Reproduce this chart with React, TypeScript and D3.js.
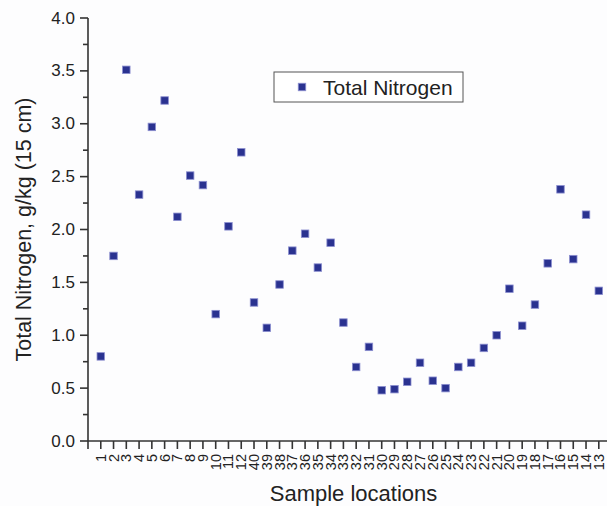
import React from "react";
import * as d3 from "d3";

const locations: string[] = [
  "1","2","3","4","5","6","7","8","9","10","11","12",
  "40","39","38","37","36","35","34","33","32","31","30","29","28","27","26",
  "25","24","23","22","21","20","19","18","17","16","15","14","13",
];
const totalNitrogen: number[] = [
  0.80, 1.75, 3.51, 2.33, 2.97, 3.22, 2.12, 2.51, 2.42, 1.20, 2.03, 2.73,
  1.31, 1.07, 1.48, 1.80, 1.96, 1.64, 1.875, 1.12, 0.70, 0.89, 0.48, 0.49,
  0.56, 0.74, 0.57, 0.50, 0.70, 0.74, 0.88, 1.00, 1.44, 1.09, 1.29, 1.68,
  2.38, 1.72, 2.14, 1.42,
];
const yMajorTicks: number[] = [0, 0.5, 1, 1.5, 2, 2.5, 3, 3.5, 4];
const yMinorTicks: number[] = [0.25, 0.75, 1.25, 1.75, 2.25, 2.75, 3.25, 3.75];
const seriesName = "Total Nitrogen";
const xTitle = "Sample locations";
const yTitle = "Total Nitrogen, g/kg (15 cm)";

const W = 607;
const H = 506;
const FONT = "Liberation Sans, Arial, Helvetica, sans-serif";
const TEXT = "#222";
const AXIS = "#333";
const FILL = "#2a3290";
const EDGE = "#8c8fd0";

export default function App() {
  const x0 = 88;
  const step = 12.77;
  const x = d3.scaleLinear().domain([0, 41]).range([x0, x0 + 41 * step]);
  const y = d3.scaleLinear().domain([0, 4]).range([441, 18]);
  const yBase = y(0);
  const ms = 7.5;

  return (
    <svg
      width={W}
      height={H}
      style={{ position: "absolute", left: 0, top: 0, background: "#fdfdfe" }}
      fontFamily={FONT}
    >
      {/* y axis */}
      <line x1={x0} x2={x0} y1={y(4)} y2={yBase + 8} stroke={AXIS} strokeWidth={1.6} />
      {yMajorTicks.map((t) => (
        <g key={"ym" + t}>
          <line x1={x0 - 8} x2={x0} y1={y(t)} y2={y(t)} stroke={AXIS} strokeWidth={1.6} />
          <text
            x={x0 - 13}
            y={y(t)}
            textAnchor="end"
            dominantBaseline="central"
            fontSize={17}
            fill={TEXT}
          >
            {d3.format(".1f")(t)}
          </text>
        </g>
      ))}
      {yMinorTicks.map((t) => (
        <line key={"yn" + t} x1={x0 - 5} x2={x0} y1={y(t)} y2={y(t)} stroke={AXIS} strokeWidth={1.6} />
      ))}
      {/* x axis */}
      <line x1={x0} x2={W} y1={yBase} y2={yBase} stroke={AXIS} strokeWidth={1.6} />
      {locations.map((lab, i) => {
        const px = x(i + 1);
        return (
          <g key={"xt" + i}>
            <line x1={px} x2={px} y1={yBase} y2={yBase + 8} stroke={AXIS} strokeWidth={1.6} />
            <text
              transform={`translate(${px},${yBase + 13}) rotate(-90)`}
              textAnchor="end"
              dominantBaseline="central"
              fontSize={14.5}
              fill={TEXT}
            >
              {lab}
            </text>
          </g>
        );
      })}
      {/* titles */}
      <text x={(x0 + W) / 2 + 6} y={501} textAnchor="middle" fontSize={22} fill={TEXT}>
        {xTitle}
      </text>
      <text
        transform={`translate(31,${(y(0) + y(4)) / 2}) rotate(-90)`}
        textAnchor="middle"
        fontSize={21.5}
        fill={TEXT}
      >
        {yTitle}
      </text>
      {/* points */}
      {totalNitrogen.map((v, i) => (
        <rect
          key={"p" + i}
          x={x(i + 1) - ms / 2}
          y={y(v) - ms / 2}
          width={ms}
          height={ms}
          fill={FILL}
          stroke={EDGE}
          strokeWidth={0.8}
        />
      ))}
      {/* legend */}
      <rect x={274} y={72} width={189} height={30} fill="#fff" stroke="#555" strokeWidth={1} />
      <rect x={302 - ms / 2} y={87 - ms / 2} width={ms} height={ms} fill={FILL} stroke={EDGE} strokeWidth={0.8} />
      <text x={323} y={94.5} fontSize={21} fill={TEXT}>
        {seriesName}
      </text>
    </svg>
  );
}
